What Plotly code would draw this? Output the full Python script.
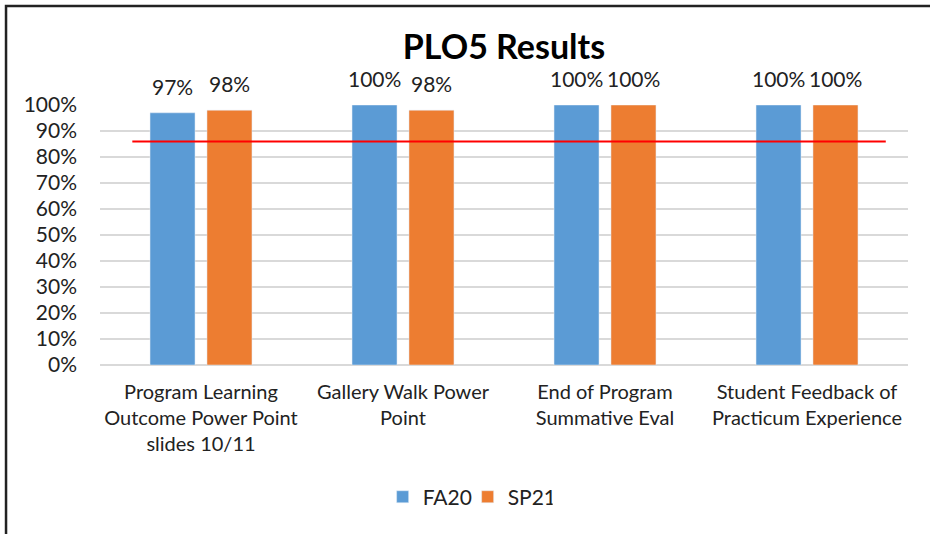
import plotly.graph_objects as go

categories = [
    "Program Learning<br>Outcome Power Point<br>slides 10/11",
    "Gallery Walk Power<br>Point",
    "End of Program<br>Summative Eval",
    "Student Feedback of<br>Practicum Experience",
]
fa20 = [0.97, 1.00, 1.00, 1.00]
sp21 = [0.98, 0.98, 1.00, 1.00]
target = 0.86
yticks = [i / 10 for i in range(11)]
ytick_labels = [f"{i*10}%" for i in range(11)]

FONT = "Lato, sans-serif"
FS = 21

fig = go.Figure()
fig.add_trace(go.Bar(name="FA20", x=categories, y=fa20, marker_color="#5B9BD5"))
fig.add_trace(go.Bar(name="SP21", x=categories, y=sp21, marker_color="#ED7D31"))

# data labels
for series, shift in ((fa20, -28.5), (sp21, 28.5)):
    for cat, v in zip(categories, series):
        fig.add_annotation(x=cat, y=v, xref="x", yref="y", text=f"{v:.0%}",
                           showarrow=False, xshift=shift, yanchor="bottom",
                           yshift=12, font=dict(size=FS, color="#222", family=FONT))

fig.add_shape(type="line", xref="x", yref="y", x0=-0.34, x1=3.39,
              y0=target, y1=target, line=dict(color="#FF0000", width=2))

# chart border (left and top edges visible)
fig.add_shape(type="path", xref="paper", yref="paper",
              path="M -0.1163 -0.8 L -0.1163 1.381 L 1.2 1.381",
              line=dict(color="#222", width=2.5))

fig.update_layout(
    width=930, height=534,
    margin=dict(l=100, r=22, t=105, b=169),
    paper_bgcolor="white", plot_bgcolor="white",
    font=dict(family=FONT, size=FS, color="#222"),
    title=dict(text="<b>PLO5 Results</b>", xref="paper", x=0.5, xanchor="center",
               y=0.912, yanchor="middle", font=dict(size=34, color="#000", family=FONT)),
    barmode="group", bargap=0.436, bargroupgap=0.21,
    showlegend=True,
    legend=dict(orientation="h", x=0.455, xanchor="center", y=-0.508, yanchor="middle",
                font=dict(size=FS), itemwidth=30, traceorder="normal", entrywidth=40),
    xaxis=dict(showline=False, ticks="", tickfont=dict(size=20), tickangle=0,
               showgrid=False, ticklabelstandoff=13),
    yaxis=dict(range=[0, 1], tickvals=yticks, ticktext=ytick_labels,
               showgrid=True, gridcolor="#D9D9D9", gridwidth=1.5,
               zeroline=True, zerolinecolor="#D9D9D9", zerolinewidth=1.5,
               showline=False, ticks="", tickfont=dict(size=FS),
               ticklabelstandoff=22),
)

fig.write_html("out.html", config={"displayModeBar": False},
               post_script="document.body.style.margin='0';")
